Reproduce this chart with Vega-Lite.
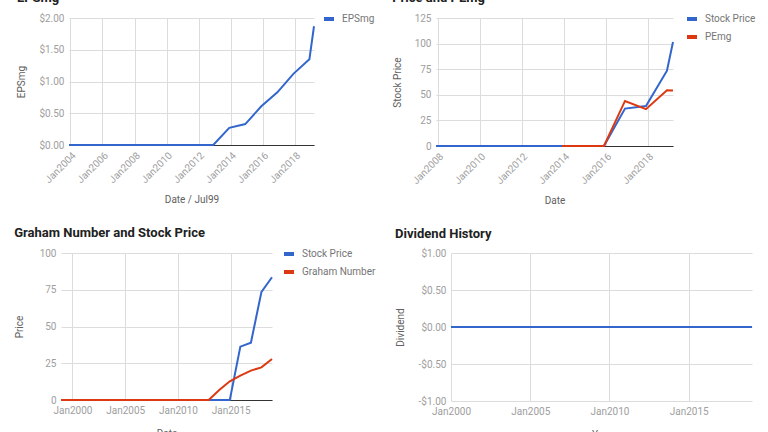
{
  "$schema": "https://vega.github.io/schema/vega-lite/v6.json",
  "background": "white",
  "padding": {"left": 14, "top": -8, "right": 0, "bottom": 0},
  "spacing": 21,
  "resolve": {"scale": {"color": "independent"}},
  "vconcat": [
    {
      "spacing": 17,
      "resolve": {"scale": {"color": "independent"}},
      "hconcat": [
        {
          "title": "EPSmg",
          "width": 253,
          "height": 127,
          "data": {"values": [
            {"date": "2003/11/30", "series": "EPSmg", "value": 0},
            {"date": "2004/11/30", "series": "EPSmg", "value": 0},
            {"date": "2005/11/30", "series": "EPSmg", "value": 0},
            {"date": "2006/11/30", "series": "EPSmg", "value": 0},
            {"date": "2007/11/30", "series": "EPSmg", "value": 0},
            {"date": "2008/11/30", "series": "EPSmg", "value": 0},
            {"date": "2009/11/30", "series": "EPSmg", "value": 0},
            {"date": "2010/11/30", "series": "EPSmg", "value": 0},
            {"date": "2011/11/30", "series": "EPSmg", "value": 0},
            {"date": "2012/11/30", "series": "EPSmg", "value": 0},
            {"date": "2013/11/30", "series": "EPSmg", "value": 0.27},
            {"date": "2014/11/30", "series": "EPSmg", "value": 0.33},
            {"date": "2015/11/30", "series": "EPSmg", "value": 0.61},
            {"date": "2016/11/30", "series": "EPSmg", "value": 0.83},
            {"date": "2017/11/30", "series": "EPSmg", "value": 1.12},
            {"date": "2018/11/30", "series": "EPSmg", "value": 1.35},
            {"date": "2019/03/15", "series": "EPSmg", "value": 1.87}
          ]},
          "mark": {"type": "line", "strokeWidth": 2},
          "encoding": {
            "x": {"field": "date", "type": "temporal", "scale": {"nice": false, "range": [8, 253]},
              "axis": {"title": "Date / Jul99", "format": "%b%Y", "labelAngle": -45, "tickCount": {"interval": "year", "step": 2}, "domain": true, "domainColor": "#333333", "titlePadding": 10}},
            "y": {"field": "value", "type": "quantitative", "scale": {"domain": [0, 2], "nice": false},
              "axis": {"title": "EPSmg", "format": "$.2f", "values": [0, 0.5, 1, 1.5, 2], "titlePadding": 12, "offset": -8}},
            "color": {"field": "series", "type": "nominal", "scale": {"domain": ["EPSmg"], "range": ["#3366cc"]},
              "legend": {"title": null, "orient": "none", "legendX": 261, "legendY": -6}}
          }
        },
        {
          "title": "Price and PEmg",
          "width": 237,
          "height": 128,
          "data": {"values": [
            {"date": "2007/11/30", "series": "Stock Price", "value": 0},
            {"date": "2008/11/30", "series": "Stock Price", "value": 0},
            {"date": "2009/11/30", "series": "Stock Price", "value": 0},
            {"date": "2010/11/30", "series": "Stock Price", "value": 0},
            {"date": "2011/11/30", "series": "Stock Price", "value": 0},
            {"date": "2012/11/30", "series": "Stock Price", "value": 0},
            {"date": "2013/11/30", "series": "Stock Price", "value": 0},
            {"date": "2014/11/30", "series": "Stock Price", "value": 0},
            {"date": "2015/11/30", "series": "Stock Price", "value": 0},
            {"date": "2016/11/30", "series": "Stock Price", "value": 36.5},
            {"date": "2017/11/30", "series": "Stock Price", "value": 39},
            {"date": "2018/11/30", "series": "Stock Price", "value": 73.5},
            {"date": "2019/03/15", "series": "Stock Price", "value": 101.5},
            {"date": "2013/11/30", "series": "PEmg", "value": 0},
            {"date": "2014/11/30", "series": "PEmg", "value": 0},
            {"date": "2015/11/30", "series": "PEmg", "value": 0},
            {"date": "2016/11/30", "series": "PEmg", "value": 44},
            {"date": "2017/11/30", "series": "PEmg", "value": 36},
            {"date": "2018/11/30", "series": "PEmg", "value": 54.5},
            {"date": "2019/03/15", "series": "PEmg", "value": 54.2}
          ]},
          "mark": {"type": "line", "strokeWidth": 2},
          "encoding": {
            "x": {"field": "date", "type": "temporal", "scale": {"nice": false},
              "axis": {"title": "Date", "format": "%b%Y", "labelAngle": -45, "tickCount": {"interval": "year", "step": 2}, "domain": true, "domainColor": "#333333", "titlePadding": 10}},
            "y": {"field": "value", "type": "quantitative", "scale": {"domain": [0, 125], "nice": false},
              "axis": {"title": "Stock Price", "values": [0, 25, 50, 75, 100, 125], "titlePadding": 12}},
            "color": {"field": "series", "type": "nominal", "scale": {"domain": ["Stock Price", "PEmg"], "range": ["#3366cc", "#dc3912"]},
              "legend": {"title": null, "orient": "none", "legendX": 249, "legendY": -6}}
          }
        }
      ]
    },
    {
      "spacing": 19,
      "resolve": {"scale": {"color": "independent"}},
      "hconcat": [
        {
          "title": "Graham Number and Stock Price",
          "width": 211,
          "height": 147,
          "data": {"values": [
            {"date": "1998/11/30", "series": "Stock Price", "value": 0},
            {"date": "1999/11/30", "series": "Stock Price", "value": 0},
            {"date": "2000/11/30", "series": "Stock Price", "value": 0},
            {"date": "2001/11/30", "series": "Stock Price", "value": 0},
            {"date": "2002/11/30", "series": "Stock Price", "value": 0},
            {"date": "2003/11/30", "series": "Stock Price", "value": 0},
            {"date": "2004/11/30", "series": "Stock Price", "value": 0},
            {"date": "2005/11/30", "series": "Stock Price", "value": 0},
            {"date": "2006/11/30", "series": "Stock Price", "value": 0},
            {"date": "2007/11/30", "series": "Stock Price", "value": 0},
            {"date": "2008/11/30", "series": "Stock Price", "value": 0},
            {"date": "2009/11/30", "series": "Stock Price", "value": 0},
            {"date": "2010/11/30", "series": "Stock Price", "value": 0},
            {"date": "2011/11/30", "series": "Stock Price", "value": 0},
            {"date": "2012/11/30", "series": "Stock Price", "value": 0},
            {"date": "2013/11/30", "series": "Stock Price", "value": 0},
            {"date": "2014/11/30", "series": "Stock Price", "value": 0},
            {"date": "2015/11/30", "series": "Stock Price", "value": 36.3},
            {"date": "2016/11/30", "series": "Stock Price", "value": 39},
            {"date": "2017/11/30", "series": "Stock Price", "value": 73.6},
            {"date": "2018/11/30", "series": "Stock Price", "value": 83.5},
            {"date": "1998/11/30", "series": "Graham Number", "value": 0},
            {"date": "1999/11/30", "series": "Graham Number", "value": 0},
            {"date": "2000/11/30", "series": "Graham Number", "value": 0},
            {"date": "2001/11/30", "series": "Graham Number", "value": 0},
            {"date": "2002/11/30", "series": "Graham Number", "value": 0},
            {"date": "2003/11/30", "series": "Graham Number", "value": 0},
            {"date": "2004/11/30", "series": "Graham Number", "value": 0},
            {"date": "2005/11/30", "series": "Graham Number", "value": 0},
            {"date": "2006/11/30", "series": "Graham Number", "value": 0},
            {"date": "2007/11/30", "series": "Graham Number", "value": 0},
            {"date": "2008/11/30", "series": "Graham Number", "value": 0},
            {"date": "2009/11/30", "series": "Graham Number", "value": 0},
            {"date": "2010/11/30", "series": "Graham Number", "value": 0},
            {"date": "2011/11/30", "series": "Graham Number", "value": 0},
            {"date": "2012/11/30", "series": "Graham Number", "value": 0},
            {"date": "2013/11/30", "series": "Graham Number", "value": 6.8},
            {"date": "2014/11/30", "series": "Graham Number", "value": 12.7},
            {"date": "2015/11/30", "series": "Graham Number", "value": 16.6},
            {"date": "2016/11/30", "series": "Graham Number", "value": 20},
            {"date": "2017/11/30", "series": "Graham Number", "value": 22.2},
            {"date": "2018/11/30", "series": "Graham Number", "value": 27.9}
          ]},
          "mark": {"type": "line", "strokeWidth": 2},
          "encoding": {
            "x": {"field": "date", "type": "temporal", "scale": {"nice": false},
              "axis": {"title": "Date", "format": "%b%Y", "labelAngle": 0, "tickCount": {"interval": "year", "step": 5}, "domain": true, "domainColor": "#333333", "titlePadding": 13}},
            "y": {"field": "value", "type": "quantitative", "scale": {"domain": [0, 100], "nice": false},
              "axis": {"title": "Price", "values": [0, 25, 50, 75, 100], "titlePadding": 15}},
            "color": {"field": "series", "type": "nominal", "scale": {"domain": ["Stock Price", "Graham Number"], "range": ["#3366cc", "#dc3912"]},
              "legend": {"title": null, "orient": "none", "legendX": 221, "legendY": -6}}
          }
        },
        {
          "title": "Dividend History",
          "width": 301,
          "height": 148,
          "data": {"values": [
            {"date": "1999/12/31", "value": 0},
            {"date": "2000/12/31", "value": 0},
            {"date": "2001/12/31", "value": 0},
            {"date": "2002/12/31", "value": 0},
            {"date": "2003/12/31", "value": 0},
            {"date": "2004/12/31", "value": 0},
            {"date": "2005/12/31", "value": 0},
            {"date": "2006/12/31", "value": 0},
            {"date": "2007/12/31", "value": 0},
            {"date": "2008/12/31", "value": 0},
            {"date": "2009/12/31", "value": 0},
            {"date": "2010/12/31", "value": 0},
            {"date": "2011/12/31", "value": 0},
            {"date": "2012/12/31", "value": 0},
            {"date": "2013/12/31", "value": 0},
            {"date": "2014/12/31", "value": 0},
            {"date": "2015/12/31", "value": 0},
            {"date": "2016/12/31", "value": 0},
            {"date": "2017/12/31", "value": 0},
            {"date": "2018/12/31", "value": 0}
          ]},
          "mark": {"type": "line", "strokeWidth": 2, "color": "#3366cc"},
          "encoding": {
            "x": {"field": "date", "type": "temporal", "scale": {"nice": false},
              "axis": {"title": "Year", "format": "%b%Y", "labelAngle": 0, "tickCount": {"interval": "year", "step": 5}, "titlePadding": 13}},
            "y": {"field": "value", "type": "quantitative", "scale": {"domain": [-1, 1], "nice": false},
              "axis": {"title": "Dividend", "values": [-1, -0.5, 0, 0.5, 1], "titlePadding": 13, "labelExpr": "datum.value < 0 ? '-$' + format(-datum.value, '.2f') : '$' + format(datum.value, '.2f')"}}
          }
        }
      ]
    }
  ],
  "config": {
    "font": "Roboto",
    "view": {"stroke": null},
    "axis": {
      "labelFont": "Roboto", "labelFontSize": 10, "labelColor": "#9e9e9e", "labelFlush": false, "labelOverlap": false,
      "titleFont": "Roboto", "titleFontSize": 10, "titleColor": "#616161", "titleFontWeight": "normal",
      "gridColor": "#dcdcdc", "gridWidth": 1, "ticks": false, "tickSize": 0, "domain": false,
      "labelPadding": 5, "titlePadding": 10
    },
    "title": {"font": "Roboto", "fontSize": 13, "fontWeight": "bold", "color": "#212121", "anchor": "start", "frame": "bounds", "offset": 7},
    "legend": {
      "labelFont": "Roboto", "labelFontSize": 10, "labelColor": "#757575",
      "symbolType": "stroke", "symbolStrokeWidth": 4, "symbolSize": 100,
      "padding": 0, "rowPadding": 2, "labelOffset": 6
    }
  }
}
